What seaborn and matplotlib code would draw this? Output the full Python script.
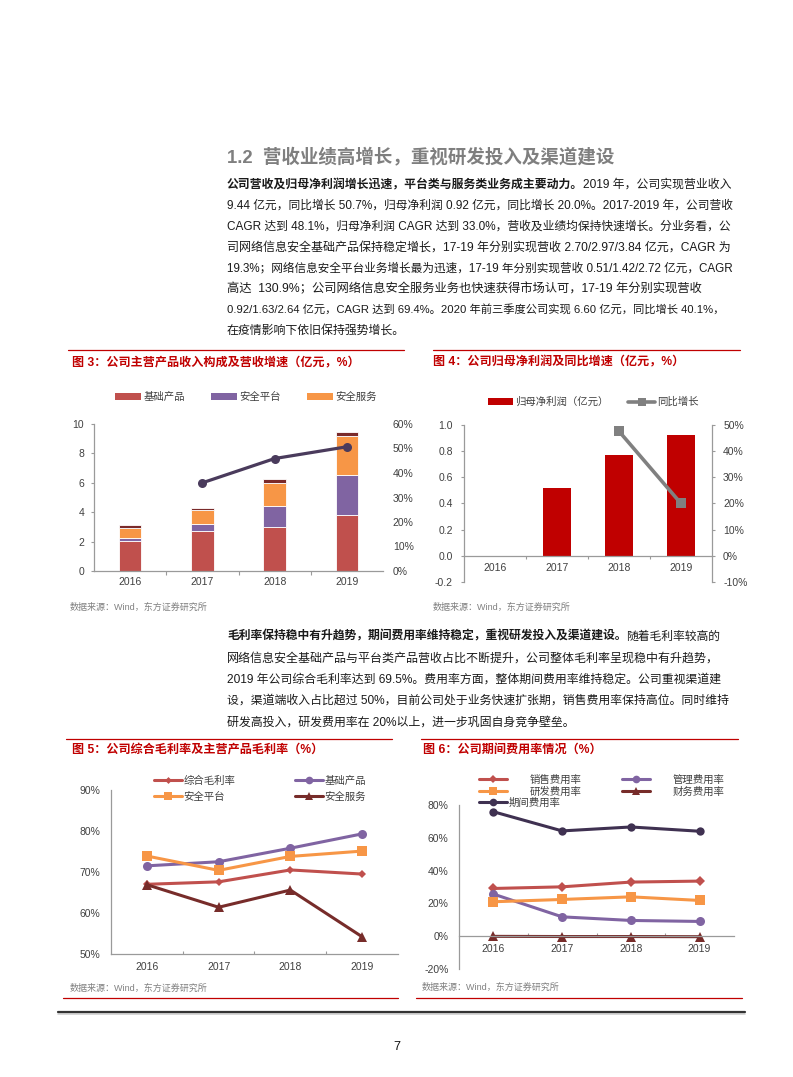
import numpy as np
import matplotlib
matplotlib.use("Agg")
import matplotlib.pyplot as plt
import seaborn as sns
from matplotlib.lines import Line2D
from matplotlib.patches import Patch

# ---------------- data ----------------
years = ["2016", "2017", "2018", "2019"]

# Fig 3: revenue composition (亿元) and revenue growth (%)
rev_basic = [2.05, 2.70, 2.97, 3.84]
rev_platform = [0.20, 0.51, 1.42, 2.72]
rev_service = [0.67, 0.92, 1.63, 2.64]
rev_other = [0.22, 0.15, 0.23, 0.24]
rev_growth_years = ["2017", "2018", "2019"]
rev_growth = [36.0, 45.9, 50.7]

# Fig 4: net profit (亿元) and yoy growth (%)
net_profit = [0.0, 0.52, 0.77, 0.92]
np_growth_years = ["2018", "2019"]
np_growth = [47.6, 20.0]

# Fig 5: gross margins (%)
gm_total = [67.0, 67.6, 70.5, 69.5]
gm_basic = [71.5, 72.5, 75.8, 79.3]
gm_platform = [73.9, 70.4, 73.8, 75.1]
gm_service = [66.9, 61.4, 65.6, 54.2]

# Fig 6: expense ratios (%)
exp_sales = [29.1, 30.1, 33.0, 33.6]
exp_admin = [25.7, 11.8, 9.6, 9.0]
exp_rd = [21.0, 22.4, 24.0, 21.8]
exp_fin = [-0.1, -0.2, -0.2, -0.3]
exp_period = [75.9, 64.2, 66.6, 64.0]

fig3_y_ticks = [0, 2, 4, 6, 8, 10]
fig3_y2_ticks = [0, 10, 20, 30, 40, 50, 60]
fig4_y_ticks = [-0.2, 0.0, 0.2, 0.4, 0.6, 0.8, 1.0]
fig4_y2_ticks = [-10, 0, 10, 20, 30, 40, 50]
fig5_y_ticks = [50, 60, 70, 80, 90]
fig6_y_ticks = [-20, 0, 20, 40, 60, 80]

# ---------------- style ----------------
sns.set_theme(style="ticks")
FAM = ["Liberation Sans", "Noto Sans CJK SC"]
plt.rcParams["font.family"] = FAM
plt.rcParams["axes.unicode_minus"] = False

W, H = 793, 1077
fig = plt.figure(figsize=(W / 100, H / 100), dpi=100)
fig.patch.set_facecolor("white")

RED = "#C00000"
SPINE = "#9A9A9A"
TXT = "#404040"
FS = 7.5

C_RED = "#C0504D"
C_PUR = "#8064A2"
C_ORG = "#F79646"
C_DRED = "#772C2A"
C_NAVY = "#3F3151"


def add_ax(left, top, right, bottom):
    return fig.add_axes([left / W, 1 - bottom / H, (right - left) / W, (bottom - top) / H])


def hline(x0, x1, y, color=RED, lw=0.9):
    fig.add_artist(Line2D([x0 / W, x1 / W], [1 - y / H, 1 - y / H],
                          transform=fig.transFigure, color=color, lw=lw))


def ftext(x, y, s, **kw):
    kw.setdefault("family", FAM)
    return fig.text(x / W, 1 - y / H, s, **kw)


renderer = fig.canvas.get_renderer()


def measure(segments, size):
    w = 0.0
    for s, weight in segments:
        t = fig.text(0, 0, s, size=size, weight=weight, family=FAM)
        w += t.get_window_extent(renderer).width
        t.remove()
    return w


def rich_line(x, y, segments, size=8.6, right=None, color="#1A1A1A"):
    if right is not None:
        w = measure(segments, size)
        scale = (right - x) / w
        scale = min(max(scale, 0.94), 1.03)
        size = size * scale
    cur = x
    for s, weight in segments:
        t = ftext(cur, y, s, size=size, weight=weight, color=color, va="center", ha="left")
        bb = t.get_window_extent(renderer)
        cur = bb.x1


def leg(handle, label, x, y, hl, htp, fs=FS):
    fig.legend(handles=[handle], labels=[label], loc="center left",
               bbox_to_anchor=(x / W, 1 - y / H), bbox_transform=fig.transFigure,
               frameon=False, borderpad=0, borderaxespad=0, handlelength=hl,
               handletextpad=htp, prop={"family": FAM, "size": fs}, labelcolor=TXT)


def style_ticks(ax):
    for lab in ax.get_xticklabels() + ax.get_yticklabels():
        lab.set_color(TXT)
        lab.set_fontsize(FS)
        lab.set_family(FAM)


# ---------------- page text ----------------
ftext(227, 157, "1.2  营收业绩高增长，重视研发投入及渠道建设", size=13.3, weight="bold",
      color="#7F7F7F", va="center")

para1 = [
    [("公司营收及归母净利润增长迅速，平台类与服务类业务成主要动力。", "bold"), ("2019 年，公司实现营业收入", "normal")],
    [("9.44 亿元，同比增长 50.7%，归母净利润 0.92 亿元，同比增长 20.0%。2017-2019 年，公司营收", "normal")],
    [("CAGR 达到 48.1%，归母净利润 CAGR 达到 33.0%，营收及业绩均保持快速增长。分业务看，公", "normal")],
    [("司网络信息安全基础产品保持稳定增长，17-19 年分别实现营收 2.70/2.97/3.84 亿元，CAGR 为", "normal")],
    [("19.3%；网络信息安全平台业务增长最为迅速，17-19 年分别实现营收 0.51/1.42/2.72 亿元，CAGR", "normal")],
    [("高达  130.9%；公司网络信息安全服务业务也快速获得市场认可，17-19 年分别实现营收", "normal")],
    [("0.92/1.63/2.64 亿元，CAGR 达到 69.4%。2020 年前三季度公司实现 6.60 亿元，同比增长 40.1%，", "normal")],
    [("在疫情影响下依旧保持强势增长。", "normal")],
]
para1_right = [728, 728, 728, 728, 728, 728, 721, None]
for i, segs in enumerate(para1):
    rich_line(227, 185 + i * 20.8, segs, right=para1_right[i])

para2 = [
    [("毛利率保持稳中有升趋势，期间费用率维持稳定，重视研发投入及渠道建设。", "bold"), ("随着毛利率较高的", "normal")],
    [("网络信息安全基础产品与平台类产品营收占比不断提升，公司整体毛利率呈现稳中有升趋势，", "normal")],
    [("2019 年公司综合毛利率达到 69.5%。费用率方面，整体期间费用率维持稳定。公司重视渠道建", "normal")],
    [("设，渠道端收入占比超过 50%，目前公司处于业务快速扩张期，销售费用率保持高位。同时维持", "normal")],
    [("研发高投入，研发费用率在 20%以上，进一步巩固自身竞争壁垒。", "normal")],
]
para2_right = [720, 717, 718, 725, None]
for i, segs in enumerate(para2):
    rich_line(227, 637 + i * 21.3, segs, right=para2_right[i])

# red separator lines
hline(68, 404, 350)
hline(433, 740, 350)
hline(66, 392, 739)
hline(421, 738, 739)
hline(63, 398, 998)
hline(416, 742, 998)
hline(58, 745, 1014, color="#CFCFCF", lw=1.2)
hline(58, 745, 1012, color="#333333", lw=1.6)

ftext(397, 1047, "7", size=9, color="#111111", ha="center", va="center")

# figure titles
for x, y, s in [(72, 362, "图 3：公司主营产品收入构成及营收增速（亿元，%）"),
                (433, 362, "图 4：公司归母净利润及同比增速（亿元，%）"),
                (72, 750, "图 5：公司综合毛利率及主营产品毛利率（%）"),
                (423, 750, "图 6：公司期间费用率情况（%）")]:
    ftext(x, y, s, size=8.7, weight="bold", color=RED, va="center")

for x, y in [(70, 607), (433, 607), (70, 988), (422, 987)]:
    ftext(x, y, "数据来源：Wind，东方证券研究所", size=6.5, color="#808080", va="center")

xpos = np.arange(len(years))

# ---------------- Fig 3 ----------------
ax3 = add_ax(94, 424, 383, 571)
bottom = np.zeros(len(years))
for vals, col in [(rev_basic, C_RED), (rev_platform, C_PUR), (rev_service, C_ORG), (rev_other, "#7A2A2A")]:
    sns.barplot(x=xpos, y=vals, native_scale=True, width=0.31, color=col, errorbar=None,
                ax=ax3, bottom=bottom.copy(), edgecolor="white", linewidth=0.6, saturation=1)
    bottom = bottom + np.array(vals)
ax3.set_xlim(-0.5, 3.5)
ax3.set_ylim(0, 10)
ax3.set_yticks(fig3_y_ticks)
ax3.set_yticklabels([str(v) for v in fig3_y_ticks])
ax3.set_xticks(xpos)
ax3.set_xticklabels(years)
ax3.set_xticks([0.5, 1.5, 2.5], minor=True)
ax3.tick_params(axis="x", which="major", length=0, pad=4.5)
ax3.tick_params(axis="x", which="minor", length=3, direction="out", color=SPINE, width=0.8)
ax3.tick_params(axis="y", length=2.5, direction="out", color=SPINE, width=0.8, pad=4.5)
for s in ["top", "right"]:
    ax3.spines[s].set_visible(False)
for s in ["left", "bottom"]:
    ax3.spines[s].set_color(SPINE)
    ax3.spines[s].set_linewidth(0.9)
ax3.set_xlabel("")
ax3.set_ylabel("")
ax3.set_facecolor("none")
ax3b = ax3.twinx()
sns.lineplot(x=[years.index(y) for y in rev_growth_years], y=rev_growth, ax=ax3b,
             color="#4A3B5C", linewidth=2.3, marker="o", markersize=6.5,
             markeredgewidth=0, errorbar=None)
ax3b.set_ylim(0, 60)
ax3b.set_yticks(fig3_y2_ticks)
ax3b.set_yticklabels([f"{v}%" for v in fig3_y2_ticks])
ax3b.tick_params(axis="y", length=0, pad=7)
for s in ax3b.spines.values():
    s.set_visible(False)
ax3b.set_ylabel("")
style_ticks(ax3)
style_ticks(ax3b)

leg(Patch(facecolor=C_RED, edgecolor="none"), "基础产品", 115, 397, 2.5, 0.2)
leg(Patch(facecolor=C_PUR, edgecolor="none"), "安全平台", 211, 397, 2.5, 0.2)
leg(Patch(facecolor=C_ORG, edgecolor="none"), "安全服务", 307, 397, 2.5, 0.2)

# ---------------- Fig 4 ----------------
ax4 = add_ax(464, 425, 712, 582)
sns.barplot(x=xpos, y=net_profit, native_scale=True, width=0.45, color=RED,
            errorbar=None, ax=ax4, saturation=1, linewidth=0)
ax4.set_xlim(-0.5, 3.5)
ax4.set_ylim(-0.2, 1.0)
ax4.set_yticks(fig4_y_ticks)
ax4.set_yticklabels([f"{v:.1f}" for v in fig4_y_ticks])
ax4.set_xticks(xpos)
ax4.set_xticklabels(years)
ax4.set_xticks([0.5, 1.5, 2.5], minor=True)
ax4.spines["bottom"].set_position(("data", 0))
ax4.tick_params(axis="x", which="major", length=0, pad=5)
ax4.tick_params(axis="x", which="minor", length=2.5, direction="out", color=SPINE, width=0.8)
ax4.tick_params(axis="y", length=2.5, direction="out", color=SPINE, width=0.8, pad=5.5)
for s in ["top", "right"]:
    ax4.spines[s].set_visible(False)
for s in ["left", "bottom"]:
    ax4.spines[s].set_color(SPINE)
    ax4.spines[s].set_linewidth(0.9)
ax4.set_xlabel("")
ax4.set_ylabel("")
ax4b = ax4.twinx()
sns.lineplot(x=[years.index(y) for y in np_growth_years], y=np_growth, ax=ax4b,
             color="#808080", linewidth=2.6, marker="s", markersize=6.5,
             markeredgewidth=0, errorbar=None)
ax4b.set_ylim(-10, 50)
ax4b.set_yticks(fig4_y2_ticks)
ax4b.set_yticklabels([f"{v}%" for v in fig4_y2_ticks])
ax4b.tick_params(axis="y", length=2.5, direction="out", color=SPINE, width=0.8, pad=5.5)
for s in ["top", "left", "bottom"]:
    ax4b.spines[s].set_visible(False)
ax4b.spines["right"].set_color(SPINE)
ax4b.spines["right"].set_linewidth(0.9)
ax4b.set_ylabel("")
style_ticks(ax4)
style_ticks(ax4b)

leg(Patch(facecolor=RED, edgecolor="none"), "归母净利润（亿元）", 488, 402, 2.4, 0.2)
leg(Line2D([], [], color="#808080", lw=2.6, marker="s", markersize=5.5, markeredgewidth=0),
    "同比增长", 628, 402, 2.6, 0.15)

# ---------------- Fig 5 ----------------
ax5 = add_ax(111, 790, 398, 954)
for vals, col, mk, ms in [(gm_total, C_RED, "D", 4.0), (gm_basic, C_PUR, "o", 6.5),
                          (gm_platform, C_ORG, "s", 6.5), (gm_service, C_DRED, "^", 7.0)]:
    sns.lineplot(x=xpos, y=vals, ax=ax5, color=col, linewidth=2.2, marker=mk,
                 markersize=ms, markeredgewidth=0, errorbar=None)
ax5.set_xlim(-0.5, 3.5)
ax5.set_ylim(50, 90)
ax5.set_yticks(fig5_y_ticks)
ax5.set_yticklabels([f"{v}%" for v in fig5_y_ticks])
ax5.set_xticks(xpos)
ax5.set_xticklabels(years)
ax5.set_xticks([0.5, 1.5, 2.5], minor=True)
ax5.tick_params(axis="x", which="major", length=0, pad=6)
ax5.tick_params(axis="x", which="minor", length=2.5, direction="in", color=SPINE, width=0.8)
ax5.tick_params(axis="y", length=0, pad=7.5)
for s in ["top", "right"]:
    ax5.spines[s].set_visible(False)
for s in ["left", "bottom"]:
    ax5.spines[s].set_color(SPINE)
    ax5.spines[s].set_linewidth(0.9)
ax5.set_xlabel("")
ax5.set_ylabel("")
style_ticks(ax5)

leg(Line2D([], [], color=C_RED, lw=2.2, marker="D", markersize=3.5, markeredgewidth=0),
    "综合毛利率", 154, 781, 2.7, 0.1)
leg(Line2D([], [], color=C_PUR, lw=2.2, marker="o", markersize=5.5, markeredgewidth=0),
    "基础产品", 295, 781, 2.7, 0.1)
leg(Line2D([], [], color=C_ORG, lw=2.2, marker="s", markersize=5.5, markeredgewidth=0),
    "安全平台", 154, 797, 2.7, 0.1)
leg(Line2D([], [], color=C_DRED, lw=2.2, marker="^", markersize=5.5, markeredgewidth=0),
    "安全服务", 295, 797, 2.7, 0.1)

# ---------------- Fig 6 ----------------
ax6 = add_ax(459, 805, 734, 969)
for vals, col, mk, ms in [(exp_sales, C_RED, "D", 5.0), (exp_admin, C_PUR, "o", 6.5),
                          (exp_rd, C_ORG, "s", 6.5), (exp_fin, C_DRED, "^", 7.0),
                          (exp_period, C_NAVY, "o", 6.0)]:
    sns.lineplot(x=xpos, y=vals, ax=ax6, color=col, linewidth=2.2, marker=mk,
                 markersize=ms, markeredgewidth=0, errorbar=None)
ax6.set_xlim(-0.5, 3.5)
ax6.set_ylim(-20, 80)
ax6.set_yticks(fig6_y_ticks)
ax6.set_yticklabels([f"{v}%" for v in fig6_y_ticks])
ax6.set_xticks(xpos)
ax6.set_xticklabels(years)
ax6.set_xticks([0.5, 1.5, 2.5], minor=True)
ax6.spines["bottom"].set_position(("data", 0))
ax6.tick_params(axis="x", which="major", length=0, pad=5.5)
ax6.tick_params(axis="x", which="minor", length=2.5, direction="in", color=SPINE, width=0.8)
ax6.tick_params(axis="y", length=0, pad=7.5)
for s in ["top", "right"]:
    ax6.spines[s].set_visible(False)
for s in ["left", "bottom"]:
    ax6.spines[s].set_color(SPINE)
    ax6.spines[s].set_linewidth(0.9)
ax6.set_xlabel("")
ax6.set_ylabel("")
style_ticks(ax6)

leg(Line2D([], [], color=C_RED, lw=2.2, marker="D", markersize=4, markeredgewidth=0),
    "销售费用率", 479, 780, 2.7, 2.2)
leg(Line2D([], [], color=C_PUR, lw=2.2, marker="o", markersize=5.5, markeredgewidth=0),
    "管理费用率", 622, 780, 2.7, 2.2)
leg(Line2D([], [], color=C_ORG, lw=2.2, marker="s", markersize=5.5, markeredgewidth=0),
    "研发费用率", 479, 792, 2.7, 2.2)
leg(Line2D([], [], color=C_DRED, lw=2.2, marker="^", markersize=5.5, markeredgewidth=0),
    "财务费用率", 622, 792, 2.7, 2.2)
leg(Line2D([], [], color=C_NAVY, lw=2.2, marker="o", markersize=5.5, markeredgewidth=0),
    "期间费用率", 479, 803, 2.7, 0.1)

fig.savefig("out.png", dpi=100, facecolor="white")
